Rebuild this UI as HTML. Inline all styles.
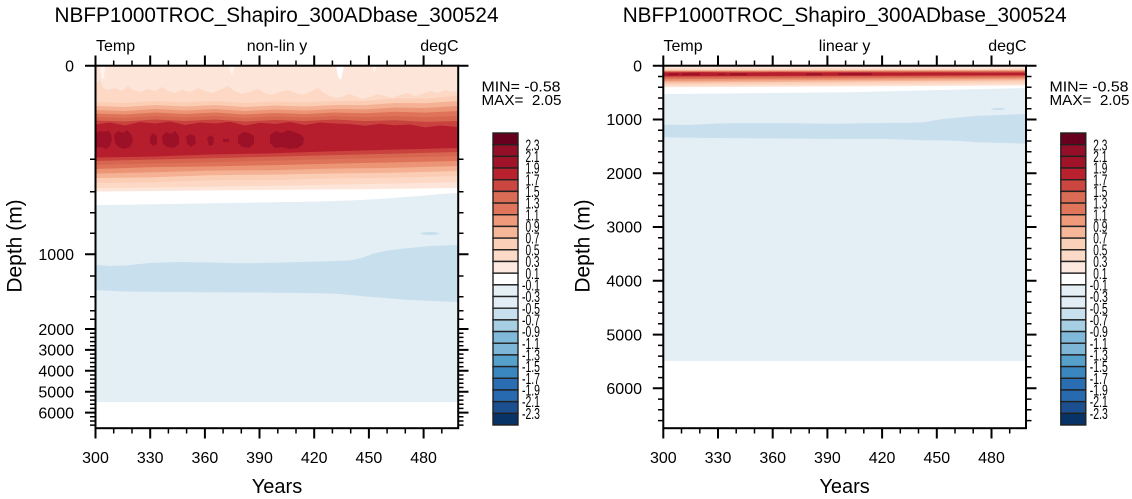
<!DOCTYPE html>
<html>
<head>
<meta charset="utf-8">
<style>
html,body{margin:0;padding:0;background:#fff;}
svg{display:block;}
text{font-family:"Liberation Sans",Arial,Helvetica,sans-serif;fill:#000;}
</style>
</head>
<body>
<svg width="1132" height="499" viewBox="0 0 1132 499" xmlns="http://www.w3.org/2000/svg">
<rect x="0" y="0" width="1132" height="499" fill="#fff"/>

<!-- ================= LEFT PLOT ================= -->
<g>
<rect x="95.5" y="65.7" width="362.7" height="362.5" fill="#e3eef5"/>
<rect x="95.5" y="402.1" width="362.7" height="26.1" fill="#fff"/>
<polygon fill="#c8dfed" points="95.5,265 110,266 125,265.5 150,263 178,262 210,262.5 240,263.2 264,263 300,262 330,261.3 350,260.5 362,258 372,254 385,251 400,249 415,247.5 430,246 445,245.5 458.2,245 458.2,302 445,301.5 430,300.8 410,300 395,298.8 380,297.5 365,296.5 357,295.5 340,294 321,293.2 290,292.8 250,292.5 210,292.3 178,292 150,291.8 125,291.5 110,290.8 95.5,290"/>
<ellipse cx="430" cy="233.5" rx="9" ry="1.6" fill="#c8dfed"/>
<polygon fill="#ffffff" points="95.5,65.7 458.2,65.7 458.2,193 440,194 420,196 400,197.5 380,199 350,200.5 320,201.5 290,202 260,202.5 230,203 200,203.5 170,204 140,204.5 110,205 95.5,205"/>
<polygon fill="#fde5d9" points="95.5,65.7 458.2,65.7 458.2,188 420,188.5 380,189 320,189.5 260,190 200,190.5 150,191 95.5,191.5"/>
<polygon fill="#fcd8c5" points="95.5,84 100,80 103,88 108,90 115,88 122,91 128,86 133,90 140,92 148,89 155,91 162,87 168,91 175,93 182,90 190,92 198,88 205,91 212,93 220,90 228,86 234,91 242,94 250,92 258,89 265,93 272,95 280,92 288,90 295,93 302,95 310,92 318,88 324,93 330,96 336,98 342,97 348,94 355,96 362,99 370,97 378,94 385,96 392,98 400,95 408,93 415,96 422,94 430,91 438,93 445,90 452,92 458.2,91 458.2,182 395,183.5 330,184.8 270,185.8 210,186.8 150,187.5 95.5,188"/>
<polygon fill="#fbcdb5" points="95.5,102 125,103 155,101 185,102.5 215,101 245,103 275,101.5 305,102.5 335,101 365,100.9 395,98.5 425,98.6 458.2,96 458.2,176 395,177.7 330,178.5 270,180.1 210,180.3 150,182.4 95.5,183"/>
<polygon fill="#f5b193" points="95.5,106 125,107 155,105 185,106.5 215,105 245,107 275,105.5 305,106.5 335,105 365,105.1 395,103 425,103.3 458.2,101 458.2,171 395,172.7 330,173.5 270,174.6 210,175.3 150,177.4 95.5,178"/>
<polygon fill="#ec9576" points="95.5,110 125,111 155,109 185,110.5 215,109 245,111 275,109.5 305,110.5 335,109 365,109.4 395,107.5 425,108 458.2,106 458.2,166 395,167.8 330,168.6 270,170.2 210,170.6 150,172.4 95.5,173.5"/>
<polygon fill="#de735a" points="95.5,113.5 125,114.5 155,112.5 185,114 215,112.5 245,114.5 275,113 305,114 335,112.5 365,113.3 395,111.7 425,112.6 458.2,111 458.2,161 395,162.4 330,163.8 270,165.2 210,166.5 150,167.3 95.5,169"/>
<polygon fill="#d76651" points="95.5,117 125,118 155,116 185,117.5 215,116 245,118 275,116.5 305,117.5 335,116 365,117.2 395,116 425,117.3 458.2,116 458.2,156 395,157.6 330,159.2 270,160.7 210,162.2 150,163.6 95.5,165"/>
<polygon fill="#c9423e" points="95.5,120.5 125,121.5 155,119.5 185,121 215,119.5 245,121.5 275,120 305,121 335,119.5 365,121.1 395,120.3 425,121.9 458.2,121 458.2,152 395,153.6 330,155.2 270,156.7 210,158.2 150,159.6 95.5,161"/>
<polygon fill="#b61e2e" points="95.5,124.5 110,122.5 125,125.5 140,122 155,123.5 170,121.5 185,125 200,122.5 215,123.5 230,121.8 245,125.5 260,122.8 275,124 290,122 305,125 320,122.5 335,123.5 350,124 365,125.7 380,123.8 395,125.3 410,124.5 425,127.4 440,125.5 458.2,127 458.2,148 395,149.6 330,151.4 270,153.4 210,154.5 150,156.6 95.5,157.5"/>
<g fill="#9c1128">
<polygon points="96,133 100,131 104,132 108,130.5 111,134 112,140 110,146 106,149 101,147 96,148"/>
<polygon points="114,135 118,131 123,133 127,130 131,134 133,141 130,147 124,149 118,147 115,143"/>
<polygon points="150,137 153,133 157,136 157,144 153,146 150,143"/>
<polygon points="162,136 166,132 171,134 175,131 179,136 179,144 174,148 167,147 163,144"/>
<polygon points="186,137 190,134 195,136 196,143 191,147 187,144"/>
<polygon points="207,138 211,135 214,138 213,145 209,146"/>
<polygon points="223,139 229,139 229,142 223,142"/>
<polygon points="238,136 243,132 249,133 254,136 254,144 249,148 242,147 238,143"/>
<polygon points="270,135 276,131 282,133 288,130 294,132 300,134 304,138 303,144 298,148 290,149 282,147 275,148 270,143"/>
</g>
<g fill="#fff4ee">
<polygon points="100,65.7 105,65.7 104,78 102,80"/>
<polygon points="228,65.7 235,65.7 232,75"/>
<polygon points="372,65.7 377,65.7 374,73"/>
</g>
<polygon fill="#ffffff" points="336,65.7 344,65.7 341,80 338,77"/>
<rect x="95.5" y="65.7" width="362.7" height="362.5" fill="none" stroke="#000" stroke-width="2"/>
<!-- ticks -->
<path stroke="#000" stroke-width="2" fill="none" d="M95.5 65.7V55.5M150.2 65.7V55.5M204.9 65.7V55.5M259.5 65.7V55.5M314.2 65.7V55.5M368.9 65.7V55.5M423.6 65.7V55.5
M95.5 428.2V438.5M150.2 428.2V438.5M204.9 428.2V438.5M259.5 428.2V438.5M314.2 428.2V438.5M368.9 428.2V438.5M423.6 428.2V438.5
M85 65.7H95.5M85 254.3H95.5M85 329H95.5M85 349.9H95.5M85 370.7H95.5M85 391.7H95.5M85 412.6H95.5
M458.2 65.7H468.5M458.2 254.3H468.5M458.2 329H468.5M458.2 349.9H468.5M458.2 370.7H468.5M458.2 391.7H468.5M458.2 412.6H468.5"/>
<path stroke="#000" stroke-width="1.5" fill="none" d="M113.7 65.7V60.5M132 65.7V60.5M168.4 65.7V60.5M186.6 65.7V60.5M223.1 65.7V60.5M241.3 65.7V60.5M277.8 65.7V60.5M296 65.7V60.5M332.4 65.7V60.5M350.7 65.7V60.5M387.1 65.7V60.5M405.3 65.7V60.5M441.8 65.7V60.5
M113.7 428.2V433.5M132 428.2V433.5M168.4 428.2V433.5M186.6 428.2V433.5M223.1 428.2V433.5M241.3 428.2V433.5M277.8 428.2V433.5M296 428.2V433.5M332.4 428.2V433.5M350.7 428.2V433.5M387.1 428.2V433.5M405.3 428.2V433.5M441.8 428.2V433.5
M90 159.3H95.5M90 191.7H95.5M90 212.7H95.5M90 233.3H95.5M90 276H95.5M90 296.7H95.5M90 310.7H95.5M90 319.3H95.5M90 333.2H95.5M90 337.4H95.5M90 341.6H95.5M90 345.7H95.5M90 354.1H95.5M90 358.3H95.5M90 362.5H95.5M90 366.7H95.5M90 375H95.5M90 379.1H95.5M90 383.3H95.5M90 387.5H95.5M90 395.9H95.5M90 400.1H95.5M90 404.2H95.5M90 408.4H95.5M90 416.8H95.5M90 421H95.5M90 425.1H95.5
M458.2 159.3H463.5M458.2 191.7H463.5M458.2 212.7H463.5M458.2 233.3H463.5M458.2 276H463.5M458.2 296.7H463.5M458.2 310.7H463.5M458.2 319.3H463.5M458.2 333.2H463.5M458.2 337.4H463.5M458.2 341.6H463.5M458.2 345.7H463.5M458.2 354.1H463.5M458.2 358.3H463.5M458.2 362.5H463.5M458.2 366.7H463.5M458.2 375H463.5M458.2 379.1H463.5M458.2 383.3H463.5M458.2 387.5H463.5M458.2 395.9H463.5M458.2 400.1H463.5M458.2 404.2H463.5M458.2 408.4H463.5M458.2 416.8H463.5M458.2 421H463.5M458.2 425.1H463.5"/>
<!-- texts -->
<text x="54.5" y="22" font-size="21" textLength="444" lengthAdjust="spacingAndGlyphs">NBFP1000TROC_Shapiro_300ADbase_300524</text>
<text x="96" y="51" font-size="16">Temp</text>
<text x="277" y="51" font-size="16" text-anchor="middle">non-lin y</text>
<text x="458.5" y="51" font-size="16" text-anchor="end">degC</text>
<g font-size="16" text-anchor="end">
<text x="74" y="71.5">0</text>
<text x="74" y="260">1000</text>
<text x="74" y="334.8">2000</text>
<text x="74" y="355.7">3000</text>
<text x="74" y="376.5">4000</text>
<text x="74" y="397.5">5000</text>
<text x="74" y="418.4">6000</text>
</g>
<g font-size="16" text-anchor="middle">
<text x="95.5" y="463">300</text>
<text x="150.2" y="463">330</text>
<text x="204.9" y="463">360</text>
<text x="259.5" y="463">390</text>
<text x="314.2" y="463">420</text>
<text x="368.9" y="463">450</text>
<text x="423.6" y="463">480</text>
</g>
<text x="277" y="493" font-size="20" text-anchor="middle">Years</text>
<text transform="translate(21.5,246) rotate(-90)" font-size="21" text-anchor="middle">Depth (m)</text>
<text x="481.5" y="91.5" font-size="14.5" textLength="79" lengthAdjust="spacingAndGlyphs" style="white-space:pre">MIN= -0.58</text>
<text x="481.5" y="105" font-size="14.5" textLength="80" lengthAdjust="spacingAndGlyphs" style="white-space:pre">MAX=  2.05</text>
</g>

<!-- LEFT COLORBAR -->
<g>
<g stroke="#222" stroke-width="1.4">
<rect x="493" y="133" width="25" height="11.68" fill="#67001f"/>
<rect x="493" y="144.68" width="25" height="11.68" fill="#940f27"/>
<rect x="493" y="156.36" width="25" height="11.68" fill="#a01329"/>
<rect x="493" y="168.04" width="25" height="11.68" fill="#b9212f"/>
<rect x="493" y="179.72" width="25" height="11.68" fill="#cc4640"/>
<rect x="493" y="191.4" width="25" height="11.68" fill="#da6b54"/>
<rect x="493" y="203.08" width="25" height="11.68" fill="#df765c"/>
<rect x="493" y="214.76" width="25" height="11.68" fill="#ee9a7b"/>
<rect x="493" y="226.44" width="25" height="11.68" fill="#f6b698"/>
<rect x="493" y="238.12" width="25" height="11.68" fill="#fbd0b9"/>
<rect x="493" y="249.8" width="25" height="11.68" fill="#fcdac8"/>
<rect x="493" y="261.48" width="25" height="11.68" fill="#fde9df"/>
<rect x="493" y="273.16" width="25" height="11.68" fill="#ffffff"/>
<rect x="493" y="284.84" width="25" height="11.68" fill="#e5eff6"/>
<rect x="493" y="296.52" width="25" height="11.68" fill="#e2edf5"/>
<rect x="493" y="308.2" width="25" height="11.68" fill="#c8dfed"/>
<rect x="493" y="319.88" width="25" height="11.68" fill="#a7cfe4"/>
<rect x="493" y="331.56" width="25" height="11.68" fill="#81b9da"/>
<rect x="493" y="343.24" width="25" height="11.68" fill="#7db6d7"/>
<rect x="493" y="354.92" width="25" height="11.68" fill="#56a0cc"/>
<rect x="493" y="366.6" width="25" height="11.68" fill="#3a87c0"/>
<rect x="493" y="378.28" width="25" height="11.68" fill="#2b6db2"/>
<rect x="493" y="389.96" width="25" height="11.68" fill="#286aaf"/>
<rect x="493" y="401.64" width="25" height="11.68" fill="#1b4f8f"/>
<rect x="493" y="413.32" width="25" height="11.68" fill="#073366"/>
</g>
<g font-size="16">
<text x="525.5" y="150.3" textLength="14" lengthAdjust="spacingAndGlyphs">2.3</text>
<text x="525.5" y="162" textLength="14" lengthAdjust="spacingAndGlyphs">2.1</text>
<text x="525.5" y="173.6" textLength="14" lengthAdjust="spacingAndGlyphs">1.9</text>
<text x="525.5" y="185.3" textLength="14" lengthAdjust="spacingAndGlyphs">1.7</text>
<text x="525.5" y="197" textLength="14" lengthAdjust="spacingAndGlyphs">1.5</text>
<text x="525.5" y="208.7" textLength="14" lengthAdjust="spacingAndGlyphs">1.3</text>
<text x="525.5" y="220.4" textLength="14" lengthAdjust="spacingAndGlyphs">1.1</text>
<text x="525.5" y="232" textLength="14" lengthAdjust="spacingAndGlyphs">0.9</text>
<text x="525.5" y="243.7" textLength="14" lengthAdjust="spacingAndGlyphs">0.7</text>
<text x="525.5" y="255.4" textLength="14" lengthAdjust="spacingAndGlyphs">0.5</text>
<text x="525.5" y="267.1" textLength="14" lengthAdjust="spacingAndGlyphs">0.3</text>
<text x="525.5" y="278.8" textLength="14" lengthAdjust="spacingAndGlyphs">0.1</text>
<text x="522" y="290.4" textLength="18" lengthAdjust="spacingAndGlyphs">-0.1</text>
<text x="522" y="302.1" textLength="18" lengthAdjust="spacingAndGlyphs">-0.3</text>
<text x="522" y="313.8" textLength="18" lengthAdjust="spacingAndGlyphs">-0.5</text>
<text x="522" y="325.5" textLength="18" lengthAdjust="spacingAndGlyphs">-0.7</text>
<text x="522" y="337.2" textLength="18" lengthAdjust="spacingAndGlyphs">-0.9</text>
<text x="522" y="348.8" textLength="18" lengthAdjust="spacingAndGlyphs">-1.1</text>
<text x="522" y="360.5" textLength="18" lengthAdjust="spacingAndGlyphs">-1.3</text>
<text x="522" y="372.2" textLength="18" lengthAdjust="spacingAndGlyphs">-1.5</text>
<text x="522" y="383.9" textLength="18" lengthAdjust="spacingAndGlyphs">-1.7</text>
<text x="522" y="395.6" textLength="18" lengthAdjust="spacingAndGlyphs">-1.9</text>
<text x="522" y="407.2" textLength="18" lengthAdjust="spacingAndGlyphs">-2.1</text>
<text x="522" y="418.9" textLength="18" lengthAdjust="spacingAndGlyphs">-2.3</text>
</g>
</g>

<!-- ================= RIGHT PLOT ================= -->
<g>
<rect x="663.3" y="65.7" width="362.7" height="362.5" fill="#e3eef5"/>
<rect x="663.3" y="360.9" width="362.7" height="67.3" fill="#fff"/>
<polygon fill="#c8dfed" points="663.3,124.7 690,125 718,123.5 746,123.1 800,123.4 832,123.7 868,123.2 908,122.9 925,122.3 940,119.4 961,117.2 978,115.9 998,115.1 1026,114 1026,143.5 998,142.8 978,142.2 963,141.1 948,140.5 925,140.3 889,139 818,138.7 746,138.2 693,137.8 663.3,137.3"/>
<ellipse cx="998" cy="109" rx="7" ry="1" fill="#c8dfed"/>
<polygon fill="#ffffff" points="663.3,65.7 1026,65.7 1026,88 1000,88.6 950,89.7 900,91 850,92.2 800,92.8 750,93.2 700,93.8 663.3,94"/>
<polygon fill="#fde5d9" points="663.3,65.7 1026,65.7 1026,85.6 845,86.5 663.3,87.2"/>
<polygon fill="#fcd8c5" points="663.3,68 700,68.6 740,67.8 780,68.5 820,68 860,68.8 900,69 940,68.6 980,69.2 1026,68.6 1026,84 845,85 663.3,85.9"/>
<polygon fill="#fbcdb5" points="663.3,70 1026,69.4 1026,81.8 845,83 663.3,84.3"/>
<polygon fill="#f5b193" points="663.3,70.4 1026,69.9 1026,80.2 845,81.4 663.3,82.6"/>
<polygon fill="#ec9576" points="663.3,70.9 1026,70.5 1026,78.8 845,79.9 663.3,81"/>
<polygon fill="#de735a" points="663.3,71.3 1026,71 1026,77.5 845,78.4 663.3,79.3"/>
<polygon fill="#d76651" points="663.3,71.8 1026,71.6 1026,76.4 845,77.2 663.3,78"/>
<polygon fill="#c9423e" points="663.3,72.1 1026,72.1 1026,75.6 845,76.1 663.3,76.6"/>
<polygon fill="#b61e2e" points="663.3,72.6 700,72.2 740,72.7 780,72.3 820,72.6 860,72.4 900,72.8 940,72.5 980,72.9 1026,72.8 1026,75.1 845,75.6 663.3,76.2"/>
<g fill="#9c1128">
<rect x="668" y="73.3" width="11" height="1.9"/>
<rect x="682" y="73.2" width="18" height="2"/>
<rect x="718" y="73.5" width="7" height="1.5"/>
<rect x="730" y="73.3" width="17" height="1.9"/>
<rect x="806" y="73.3" width="16" height="1.9"/>
<rect x="838" y="73.2" width="34" height="2"/>
</g>
<rect x="663.3" y="65.7" width="362.7" height="362.5" fill="none" stroke="#000" stroke-width="2"/>
<path stroke="#000" stroke-width="2" fill="none" d="M663.3 65.7V55.5M718 65.7V55.5M772.7 65.7V55.5M827.4 65.7V55.5M882.1 65.7V55.5M936.8 65.7V55.5M991.5 65.7V55.5
M663.3 428.2V438.5M718 428.2V438.5M772.7 428.2V438.5M827.4 428.2V438.5M882.1 428.2V438.5M936.8 428.2V438.5M991.5 428.2V438.5
M652.8 65.7H663.3M652.8 119.5H663.3M652.8 173.2H663.3M652.8 227H663.3M652.8 280.8H663.3M652.8 334.6H663.3M652.8 388.3H663.3
M1026 65.7H1036.5M1026 119.5H1036.5M1026 173.2H1036.5M1026 227H1036.5M1026 280.8H1036.5M1026 334.6H1036.5M1026 388.3H1036.5"/>
<path stroke="#000" stroke-width="1.5" fill="none" d="M681.5 65.7V60.5M699.8 65.7V60.5M736.2 65.7V60.5M754.5 65.7V60.5M790.9 65.7V60.5M809.2 65.7V60.5M845.6 65.7V60.5M863.8 65.7V60.5M900.3 65.7V60.5M918.5 65.7V60.5M955 65.7V60.5M973.2 65.7V60.5M1009.7 65.7V60.5
M681.5 428.2V433.5M699.8 428.2V433.5M736.2 428.2V433.5M754.5 428.2V433.5M790.9 428.2V433.5M809.2 428.2V433.5M845.6 428.2V433.5M863.8 428.2V433.5M900.3 428.2V433.5M918.5 428.2V433.5M955 428.2V433.5M973.2 428.2V433.5M1009.7 428.2V433.5
M658 76.5H663.3M658 87.2H663.3M658 98H663.3M658 108.7H663.3M658 130.2H663.3M658 141H663.3M658 151.7H663.3M658 162.5H663.3M658 184H663.3M658 194.7H663.3M658 205.5H663.3M658 216.3H663.3M658 237.8H663.3M658 248.5H663.3M658 259.3H663.3M658 270H663.3M658 291.6H663.3M658 302.3H663.3M658 313.1H663.3M658 323.8H663.3M658 345.4H663.3M658 356.1H663.3M658 366.8H663.3M658 377.6H663.3M658 399.1H663.3M658 409.8H663.3M658 420.6H663.3
M1026 76.5H1031.5M1026 87.2H1031.5M1026 98H1031.5M1026 108.7H1031.5M1026 130.2H1031.5M1026 141H1031.5M1026 151.7H1031.5M1026 162.5H1031.5M1026 184H1031.5M1026 194.7H1031.5M1026 205.5H1031.5M1026 216.3H1031.5M1026 237.8H1031.5M1026 248.5H1031.5M1026 259.3H1031.5M1026 270H1031.5M1026 291.6H1031.5M1026 302.3H1031.5M1026 313.1H1031.5M1026 323.8H1031.5M1026 345.4H1031.5M1026 356.1H1031.5M1026 366.8H1031.5M1026 377.6H1031.5M1026 399.1H1031.5M1026 409.8H1031.5M1026 420.6H1031.5"/>
<text x="622.7" y="22" font-size="21" textLength="444" lengthAdjust="spacingAndGlyphs">NBFP1000TROC_Shapiro_300ADbase_300524</text>
<text x="663.5" y="51" font-size="16">Temp</text>
<text x="844.6" y="51" font-size="16" text-anchor="middle">linear y</text>
<text x="1026.5" y="51" font-size="16" text-anchor="end">degC</text>
<g font-size="16" text-anchor="end">
<text x="642" y="71.5">0</text>
<text x="642" y="125.2">1000</text>
<text x="642" y="179">2000</text>
<text x="642" y="232.7">3000</text>
<text x="642" y="286.5">4000</text>
<text x="642" y="340.3">5000</text>
<text x="642" y="394">6000</text>
</g>
<g font-size="16" text-anchor="middle">
<text x="663.3" y="463">300</text>
<text x="718" y="463">330</text>
<text x="772.7" y="463">360</text>
<text x="827.4" y="463">390</text>
<text x="882.1" y="463">420</text>
<text x="936.8" y="463">450</text>
<text x="991.5" y="463">480</text>
</g>
<text x="844.6" y="493" font-size="20" text-anchor="middle">Years</text>
<text transform="translate(589.5,246) rotate(-90)" font-size="21" text-anchor="middle">Depth (m)</text>
<text x="1049.5" y="91.5" font-size="14.5" textLength="79" lengthAdjust="spacingAndGlyphs" style="white-space:pre">MIN= -0.58</text>
<text x="1049.5" y="105" font-size="14.5" textLength="80" lengthAdjust="spacingAndGlyphs" style="white-space:pre">MAX=  2.05</text>
</g>

<!-- RIGHT COLORBAR -->
<g>
<g stroke="#222" stroke-width="1.4">
<rect x="1060.8" y="133" width="25" height="11.68" fill="#67001f"/>
<rect x="1060.8" y="144.68" width="25" height="11.68" fill="#940f27"/>
<rect x="1060.8" y="156.36" width="25" height="11.68" fill="#a01329"/>
<rect x="1060.8" y="168.04" width="25" height="11.68" fill="#b9212f"/>
<rect x="1060.8" y="179.72" width="25" height="11.68" fill="#cc4640"/>
<rect x="1060.8" y="191.4" width="25" height="11.68" fill="#da6b54"/>
<rect x="1060.8" y="203.08" width="25" height="11.68" fill="#df765c"/>
<rect x="1060.8" y="214.76" width="25" height="11.68" fill="#ee9a7b"/>
<rect x="1060.8" y="226.44" width="25" height="11.68" fill="#f6b698"/>
<rect x="1060.8" y="238.12" width="25" height="11.68" fill="#fbd0b9"/>
<rect x="1060.8" y="249.8" width="25" height="11.68" fill="#fcdac8"/>
<rect x="1060.8" y="261.48" width="25" height="11.68" fill="#fde9df"/>
<rect x="1060.8" y="273.16" width="25" height="11.68" fill="#ffffff"/>
<rect x="1060.8" y="284.84" width="25" height="11.68" fill="#e5eff6"/>
<rect x="1060.8" y="296.52" width="25" height="11.68" fill="#e2edf5"/>
<rect x="1060.8" y="308.2" width="25" height="11.68" fill="#c8dfed"/>
<rect x="1060.8" y="319.88" width="25" height="11.68" fill="#a7cfe4"/>
<rect x="1060.8" y="331.56" width="25" height="11.68" fill="#81b9da"/>
<rect x="1060.8" y="343.24" width="25" height="11.68" fill="#7db6d7"/>
<rect x="1060.8" y="354.92" width="25" height="11.68" fill="#56a0cc"/>
<rect x="1060.8" y="366.6" width="25" height="11.68" fill="#3a87c0"/>
<rect x="1060.8" y="378.28" width="25" height="11.68" fill="#2b6db2"/>
<rect x="1060.8" y="389.96" width="25" height="11.68" fill="#286aaf"/>
<rect x="1060.8" y="401.64" width="25" height="11.68" fill="#1b4f8f"/>
<rect x="1060.8" y="413.32" width="25" height="11.68" fill="#073366"/>
</g>
<g font-size="16">
<text x="1093.3" y="150.3" textLength="14" lengthAdjust="spacingAndGlyphs">2.3</text>
<text x="1093.3" y="162" textLength="14" lengthAdjust="spacingAndGlyphs">2.1</text>
<text x="1093.3" y="173.6" textLength="14" lengthAdjust="spacingAndGlyphs">1.9</text>
<text x="1093.3" y="185.3" textLength="14" lengthAdjust="spacingAndGlyphs">1.7</text>
<text x="1093.3" y="197" textLength="14" lengthAdjust="spacingAndGlyphs">1.5</text>
<text x="1093.3" y="208.7" textLength="14" lengthAdjust="spacingAndGlyphs">1.3</text>
<text x="1093.3" y="220.4" textLength="14" lengthAdjust="spacingAndGlyphs">1.1</text>
<text x="1093.3" y="232" textLength="14" lengthAdjust="spacingAndGlyphs">0.9</text>
<text x="1093.3" y="243.7" textLength="14" lengthAdjust="spacingAndGlyphs">0.7</text>
<text x="1093.3" y="255.4" textLength="14" lengthAdjust="spacingAndGlyphs">0.5</text>
<text x="1093.3" y="267.1" textLength="14" lengthAdjust="spacingAndGlyphs">0.3</text>
<text x="1093.3" y="278.8" textLength="14" lengthAdjust="spacingAndGlyphs">0.1</text>
<text x="1089.8" y="290.4" textLength="18" lengthAdjust="spacingAndGlyphs">-0.1</text>
<text x="1089.8" y="302.1" textLength="18" lengthAdjust="spacingAndGlyphs">-0.3</text>
<text x="1089.8" y="313.8" textLength="18" lengthAdjust="spacingAndGlyphs">-0.5</text>
<text x="1089.8" y="325.5" textLength="18" lengthAdjust="spacingAndGlyphs">-0.7</text>
<text x="1089.8" y="337.2" textLength="18" lengthAdjust="spacingAndGlyphs">-0.9</text>
<text x="1089.8" y="348.8" textLength="18" lengthAdjust="spacingAndGlyphs">-1.1</text>
<text x="1089.8" y="360.5" textLength="18" lengthAdjust="spacingAndGlyphs">-1.3</text>
<text x="1089.8" y="372.2" textLength="18" lengthAdjust="spacingAndGlyphs">-1.5</text>
<text x="1089.8" y="383.9" textLength="18" lengthAdjust="spacingAndGlyphs">-1.7</text>
<text x="1089.8" y="395.6" textLength="18" lengthAdjust="spacingAndGlyphs">-1.9</text>
<text x="1089.8" y="407.2" textLength="18" lengthAdjust="spacingAndGlyphs">-2.1</text>
<text x="1089.8" y="418.9" textLength="18" lengthAdjust="spacingAndGlyphs">-2.3</text>
</g>
</g>
</svg>
</body>
</html>
